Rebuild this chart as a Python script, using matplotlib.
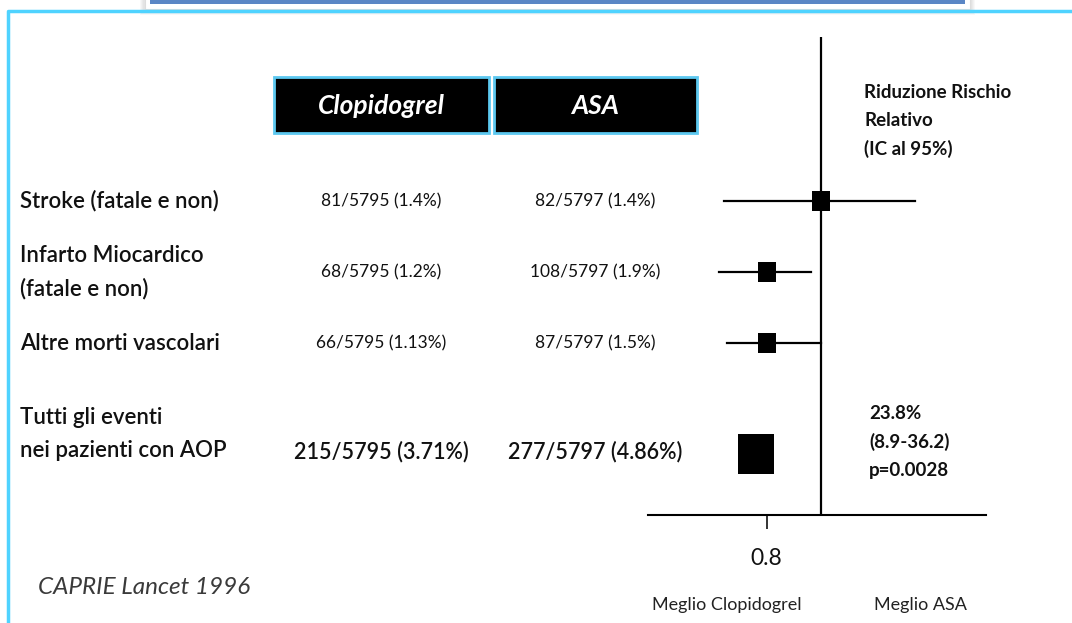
import matplotlib
matplotlib.use("Agg")
import matplotlib.pyplot as plt
from matplotlib.patches import Rectangle

plt.rcParams['font.family'] = ['Lato', 'DejaVu Sans']

# data
outcomes = ["Stroke (fatale e non)", "Infarto Miocardico\n(fatale e non)",
            "Altre morti vascolari", "Tutti gli eventi\nnei pazienti con AOP"]
clopi_events = ["81/5795 (1.4%)", "68/5795 (1.2%)", "66/5795 (1.13%)", "215/5795 (3.71%)"]
asa_events = ["82/5797 (1.4%)", "108/5797 (1.9%)", "87/5797 (1.5%)", "277/5797 (4.86%)"]
rr = [1.0, 0.80, 0.80, 0.762]
ci_low = [0.645, 0.625, 0.655, None]
ci_high = [1.345, 0.965, 1.0, None]
rrr_text = "23.8%\n(8.9-36.2)\np=0.0028"
headers = ["Clopidogrel", "ASA"]

W, H = 1072, 623
fig = plt.figure(figsize=(W / 100, H / 100), dpi=100)

# background canvas in pixel units
bg = fig.add_axes([0, 0, 1, 1])
bg.set_xlim(0, W)
bg.set_ylim(H, 0)
bg.axis('off')

# slide frame
bg.plot([8, 8, W], [H, 11, 11], color='#4fd3ff', lw=2.5, solid_capstyle='butt')
for i in range(4):
    bg.add_patch(Rectangle((143 - i, -5), 829 + 2 * i, 17 + i, fc='#7a7a7a', ec='none', alpha=0.05))
bg.add_patch(Rectangle((145, -5), 825, 14, fc='white', ec='#dddddd', lw=0.8))
bg.add_patch(Rectangle((150, -5), 815, 9, fc='#5a86c5', ec='none'))

# column header boxes
col_x = [381, 595]
box_w = [215, 203]
for cx, bw, name in zip(col_x, box_w, headers):
    bg.add_patch(Rectangle((cx - bw / 2, 77), bw, 56, fc='black', ec='#5cc8f0', lw=2))
    bg.text(cx, 106, name, color='white', fontsize=19, fontweight='bold', style='italic',
            ha='center', va='center')

# table rows
row_y = [201, 272, 343, 452]
label_y = [201, 272, 343, 434]
for i in range(len(outcomes)):
    big = i == len(outcomes) - 1
    bg.text(20, label_y[i], outcomes[i], fontsize=16, fontweight='semibold', ha='left',
            va='center', color='#111111', linespacing=1.65)
    fs = 15.5 if big else 12.5
    fw = 'semibold' if big else 'normal'
    bg.text(col_x[0], row_y[i], clopi_events[i], fontsize=fs, fontweight=fw,
            ha='center', va='center', color='#111111')
    bg.text(col_x[1], row_y[i], asa_events[i], fontsize=fs, fontweight=fw,
            ha='center', va='center', color='#111111')

bg.text(864, 121, "Riduzione Rischio\nRelativo\n(IC al 95%)", fontsize=13.5, fontweight='bold',
        ha='left', va='center', linespacing=1.75, color='#111111')
bg.text(869, 442, rrr_text, fontsize=13.5, fontweight='bold', ha='left', va='center',
        linespacing=1.72, color='#111111')
bg.text(38, 588, "CAPRIE Lancet 1996", fontsize=17.5, style='italic', ha='left', va='center',
        color='#3a3a3a')
bg.text(727, 605, "Meglio Clopidogrel", fontsize=13, ha='center', va='center', color='#222222')
bg.text(920, 605, "Meglio ASA", fontsize=13, ha='center', va='center', color='#222222')

# forest plot
x0, x1, y0, y1 = 648, 986, 37, 515
ax = fig.add_axes([x0 / W, 1 - y1 / H, (x1 - x0) / W, (y1 - y0) / H])
ax.patch.set_alpha(0)
ax.set_xlim(1 - 173 / 272.5, 1 + 165 / 272.5)
ax.set_ylim(y1, y0)
for s in ['top', 'left', 'right']:
    ax.spines[s].set_visible(False)
ax.spines['bottom'].set_linewidth(1.5)
ax.set_yticks([])
ax.set_xticks([0.8])
ax.set_xticklabels(["0.8"])
ax.tick_params(axis='x', direction='out', length=10, width=1.2, pad=14, labelsize=16.5,
               colors='#111111')
ax.axvline(1.0, color='black', lw=1.6)

# slightly tall rectangles as point markers
box = [(-0.44, -0.5), (0.44, -0.5), (0.44, 0.5), (-0.44, 0.5), (-0.44, -0.5)]
for i in range(len(rr)):
    if ci_low[i] is not None:
        ax.plot([ci_low[i], ci_high[i]], [row_y[i], row_y[i]], color='black', lw=1.6)
    last = i == len(rr) - 1
    ax.plot(rr[i], row_y[i] + (2 if last else 0), marker=box, ms=29.5 if last else 14.5,
            color='black', mew=0)

fig.savefig("out.png", dpi=100)
